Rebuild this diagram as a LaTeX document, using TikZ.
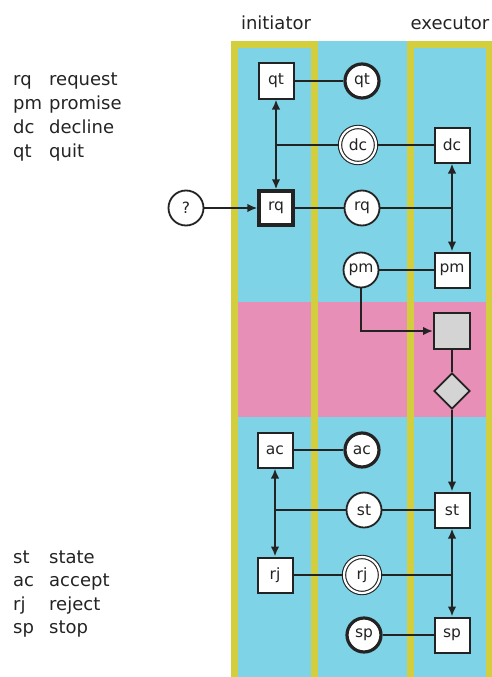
\documentclass[tikz,border=0pt]{standalone}
\usepackage{fontspec}
\setmainfont{DejaVu Sans}
\usetikzlibrary{arrows.meta,shapes.geometric}
\definecolor{cyanbg}{RGB}{126,211,231}
\definecolor{pinkbg}{RGB}{232,143,183}
\definecolor{yel}{RGB}{210,206,62}
\definecolor{grayfill}{RGB}{212,212,212}
\definecolor{ink}{RGB}{35,35,35}
\begin{document}
\begin{tikzpicture}[x=1pt,y=-1pt,
  lbl/.style={font=\fontsize{15.5}{18}\selectfont,text=ink},
  box/.style={lbl,draw=ink,fill=white,line width=2pt,minimum size=35pt,inner sep=0pt},
  thickbox/.style={box,line width=3.2pt,minimum size=34pt},
  rnd/.style={lbl,circle,draw=ink,fill=white,line width=1.8pt,minimum size=35pt,inner sep=0pt},
  thickrnd/.style={rnd,line width=3.2pt,minimum size=34pt},
  dblrnd/.style={rnd,double=white,double distance=2.2pt,line width=1.1pt,minimum size=36pt},
  graybox/.style={draw=ink,fill=grayfill,line width=2pt,minimum size=36pt,inner sep=0pt},
  graydia/.style={diamond,draw=ink,fill=grayfill,line width=1.8pt,minimum size=36pt,inner sep=0pt},
  conn/.style={draw=ink,line width=2pt},
  arr/.style={-{Latex[length=10pt,width=8.5pt]}},
  darr/.style={{Latex[length=10pt,width=8.5pt]}-{Latex[length=10pt,width=8.5pt]}},
  hdr/.style={font=\fontsize{18}{22}\selectfont,text=ink,anchor=base,inner sep=0pt},
  leg/.style={font=\fontsize{18}{22}\selectfont,text=ink,anchor=base west,inner sep=0pt}
]
\useasboundingbox (0,0) rectangle (492,677);
\clip (0,0) rectangle (492,677);
% backgrounds
\fill[cyanbg] (231,41) rectangle (492,677);
\fill[pinkbg] (231,302) rectangle (492,417);
\draw[yel,line width=7pt] (234.5,44.5) rectangle (314.5,680.5);
\draw[yel,line width=7pt] (410.5,44.5) rectangle (489.5,680.5);
% headers
\node[hdr] (hinit) at (276,30) {initiator};
\node[hdr] (hexec) at (450,30) {executor};
% legend
\node[leg] (l1a) at (13,85) {rq};
\node[leg] (l1b) at (49,85) {request};
\node[leg] (l2a) at (13,109) {pm};
\node[leg] (l2b) at (49,109) {promise};
\node[leg] (l3a) at (13,133) {dc};
\node[leg] (l3b) at (49,133) {decline};
\node[leg] (l4a) at (13,157) {qt};
\node[leg] (l4b) at (49,157) {quit};
\node[leg] (l5a) at (13,563) {st};
\node[leg] (l5b) at (49,563) {state};
\node[leg] (l6a) at (13,586.5) {ac};
\node[leg] (l6b) at (49,586.5) {accept};
\node[leg] (l7a) at (13,610) {rj};
\node[leg] (l7b) at (49,610) {reject};
\node[leg] (l8a) at (13,633.5) {sp};
\node[leg] (l8b) at (49,633.5) {stop};
% nodes
\node[box] (qtS) at (276,81) {qt};
\node[thickrnd] (qtC) at (362,81) {qt};
\node[dblrnd] (dcC) at (358,145) {dc};
\node[box] (dcS) at (452,145) {dc};
\node[rnd] (qm) at (186,208) {?};
\node[thickbox] (rqS) at (276,208) {rq};
\node[rnd] (rqC) at (362,208) {rq};
\node[rnd] (pmC) at (361,270) {pm};
\node[box] (pmS) at (452,270) {pm};
\node[graybox] (gsq) at (452,331) {};
\node[graydia] (gdia) at (452,391) {};
\node[box] (acS) at (275,450) {ac};
\node[thickrnd] (acC) at (362,450) {ac};
\node[rnd] (stC) at (364,510) {st};
\node[box] (stS) at (452,510) {st};
\node[box] (rjS) at (275,575) {rj};
\node[dblrnd] (rjC) at (362,575) {rj};
\node[thickrnd] (spC) at (364,635) {sp};
\node[box] (spS) at (452,635) {sp};
% connectors (upper)
\draw[conn] (qtS.east) -- (qtC.west);
\draw[conn,darr] (qtS.south) -- (rqS.north);
\draw[conn] (dcC.west) -- (dcC.west -| qtS.south);
\draw[conn] (dcC.east) -- (dcS.west);
\draw[conn,arr] (qm.east) -- (rqS.west);
\draw[conn] (rqS.east) -- (rqC.west);
\draw[conn] (rqC.east) -- (rqC.east -| dcS.south);
\draw[conn,darr] (dcS.south) -- (pmS.north);
\draw[conn] (pmC.east) -- (pmS.west);
\draw[conn,arr] (pmC.south) |- (gsq.west);
\draw[conn] (gsq.south) -- (gdia.north);
\draw[conn,arr] (gdia.south) -- (stS.north);
% connectors (lower)
\draw[conn] (acS.east) -- (acC.west);
\draw[conn,darr] (acS.south) -- (rjS.north);
\draw[conn] (stC.west) -- (stC.west -| acS.south);
\draw[conn] (stC.east) -- (stS.west);
\draw[conn] (rjS.east) -- (rjC.west);
\draw[conn] (rjC.east) -- (rjC.east -| stS.south);
\draw[conn,darr] (stS.south) -- (spS.north);
\draw[conn] (spC.east) -- (spS.west);
\end{tikzpicture}
\end{document}
